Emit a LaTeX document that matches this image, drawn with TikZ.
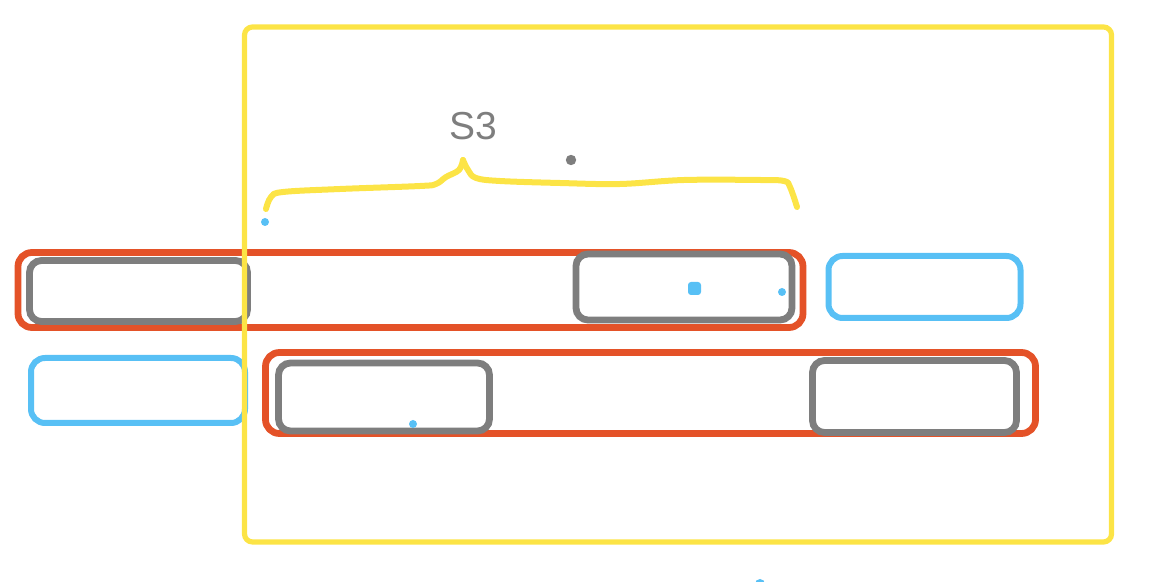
\documentclass[tikz,border=0pt]{standalone}
\usepackage{fontspec}
\setmainfont{Liberation Sans}
\usepackage{xcolor}
\usepackage{tikz}
\usetikzlibrary{positioning}
\definecolor{framecolor}{RGB}{252, 228, 70}
\definecolor{groupcolor}{RGB}{228, 82, 40}
\definecolor{slotcolor}{RGB}{126, 126, 126}
\definecolor{freecolor}{RGB}{88, 192, 245}

\begin{document}
\begin{tikzpicture}[
        x=0.5pt, y=-0.5pt,
        frame/.style={rectangle, rounded corners=4pt, draw=framecolor, line width=2.6pt, minimum width=433.5pt, minimum height=257.5pt},
        group/.style={rectangle, rounded corners=7pt, draw=groupcolor, line width=3.4pt},
        slot/.style={rectangle, rounded corners=6pt, draw=slotcolor, line width=3.4pt},
        freeslot/.style={rectangle, rounded corners=7pt, draw=freecolor, line width=3pt},
        brace/.style={draw=framecolor, line width=3pt, line cap=round, line join=round}
    ]
        \useasboundingbox (0,0) rectangle (1168,582);

        % Red groups
        \node (grouptop) [group, minimum width=392.5pt, minimum height=37.5pt] at (410.5,290) {};
        \node (groupbot) [group, minimum width=385pt, minimum height=40.5pt] at (650.5,393) {};

        % Gray slots
        \node (slotA) [slot, minimum width=109pt, minimum height=30.5pt] at (138.5,291) {};
        \node (slotB) [slot, minimum width=108pt, minimum height=33pt] at (684,287) {};
        \node (slotC) [slot, minimum width=105.5pt, minimum height=34pt] at (384,397) {};
        \node (slotD) [slot, minimum width=102pt, minimum height=36pt] at (914.5,396.5) {};

        % Blue slots
        \node (freeA) [freeslot, minimum width=96pt, minimum height=31pt] at (924.5,287) {};
        \node (freeB) [freeslot, minimum width=107pt, minimum height=32.5pt] at (138,390.5) {};

        % Frame
        \node (window) [frame] at (678,284.5) {};

        % Brace and label
        \draw [brace] plot[smooth, tension=0.6] coordinates {(266,209) (271,197) (283,192) (340,189) (420,186) (436,184) (446,177) (459,170) (463,160)};
        \draw [brace] plot[smooth, tension=0.6] coordinates {(463,160) (468,170) (476,178) (500,181) (560,183) (620,184) (684,180) (760,180) (784,181) (790,187) (797,207)};
        \node (label) [text=slotcolor, font=\fontsize{19.5}{22}\selectfont, inner sep=0pt] at (473,126) {S3};

        % Dots
        \fill [slotcolor] (571,160) circle (2.6pt);
        \fill [freecolor] (265,222) circle (2pt);
        \fill [freecolor, rounded corners=1.5pt] (688,282) rectangle (701,295);
        \fill [freecolor] (782,292) circle (2pt);
        \fill [freecolor] (413,424) circle (2pt);
        \fill [freecolor] (760,584) circle (2.5pt);
    \end{tikzpicture}
\end{document}
